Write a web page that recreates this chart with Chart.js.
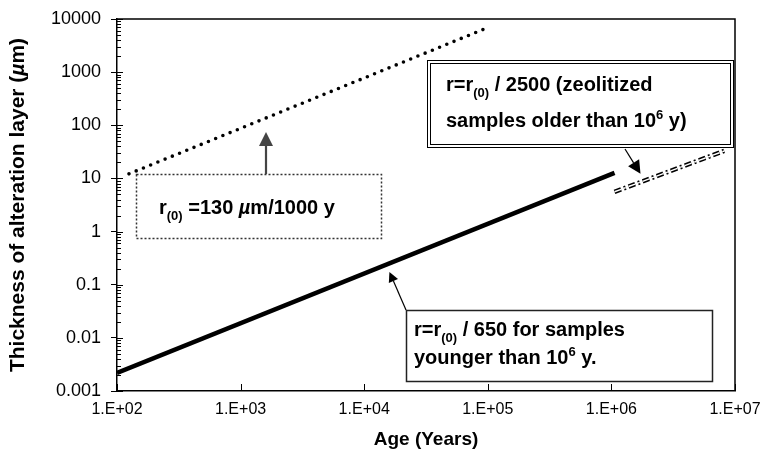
<!DOCTYPE html>
<html>
<head>
<meta charset="utf-8">
<script src="https://cdn.jsdelivr.net/npm/chart.js@4.4.1/dist/chart.umd.min.js"></script>
<style>
  html, body { margin: 0; padding: 0; background: #fff; }
  #wrap { width: 760px; height: 462px; }
</style>
</head>
<body>
<div id="wrap"><canvas id="chart" width="760" height="462"></canvas></div>
<script>
// Thickness of the alteration layer against age, log-log
const X_TICKS = [1e2, 1e3, 1e4, 1e5, 1e6, 1e7];
const X_LABELS = ['1.E+02', '1.E+03', '1.E+04', '1.E+05', '1.E+06', '1.E+07'];
const Y_TICKS = [0.001, 0.01, 0.1, 1, 10, 100, 1000, 10000];
const Y_LABELS = ['0.001', '0.01', '0.1', '1', '10', '100', '1000', '10000'];

// r(0) = 130 um / 1000 y
const AGE_R0 = [125, 95500];
const THK_R0 = [12.2, 6600];
// r = r(0) / 650, younger than 1e6 y
const AGE_650 = [100, 1.06e6];
const THK_650 = [0.0022, 12.7];
// r = r(0) / 2500, zeolitized, older than 1e6 y
const AGE_2500 = [1.06e6, 8.2e6];
const THK_2500 = [5.6, 33];

const FONT = '"Liberation Sans", Arial, Helvetica, sans-serif';
const pts = (xs, ys) => xs.map((x, i) => ({ x, y: ys[i] }));

// bold text with sub / superscripts and italic pieces
function richText(ctx, x, y, parts, size, measureOnly) {
  let cx = x;
  parts.forEach(p => {
    const small = p.sub || p.sup;
    const s = small ? Math.round(size * 0.64) : size;
    ctx.font = (p.it ? 'italic ' : '') + 'bold ' + s + 'px ' + FONT;
    const dy = p.sub ? size * 0.3 : p.sup ? -size * 0.42 : 0;
    if (!measureOnly) ctx.fillText(p.t, cx, y + dy);
    cx += ctx.measureText(p.t).width;
  });
  return cx - x;
}

function arrow(ctx, x0, y0, x1, y1, head, lw, color) {
  const a = Math.atan2(y1 - y0, x1 - x0);
  const c = Math.cos(a), s = Math.sin(a), w = head * 0.5;
  ctx.strokeStyle = color;
  ctx.fillStyle = color;
  ctx.lineWidth = lw;
  ctx.setLineDash([]);
  ctx.beginPath();
  ctx.moveTo(x0, y0);
  ctx.lineTo(x1 - c * head, y1 - s * head);
  ctx.stroke();
  ctx.beginPath();
  ctx.moveTo(x1, y1);
  ctx.lineTo(x1 - c * head + s * w, y1 - s * head - c * w);
  ctx.lineTo(x1 - c * head - s * w, y1 - s * head + c * w);
  ctx.closePath();
  ctx.fill();
}

const annotate = {
  id: 'annotate',
  afterDraw(chart) {
    const { ctx, chartArea: ca, scales: { x, y } } = chart;
    ctx.save();

    // frame top and right
    ctx.strokeStyle = '#000';
    ctx.lineWidth = 1.5;
    ctx.beginPath();
    ctx.moveTo(ca.left, ca.top);
    ctx.lineTo(ca.right, ca.top);
    ctx.lineTo(ca.right, ca.bottom);
    ctx.stroke();

    // inner ticks: y minor + major, x major
    ctx.lineWidth = 1;
    ctx.beginPath();
    Y_TICKS.forEach((d, i) => {
      const py = Math.round(y.getPixelForValue(d)) + 0.5;
      ctx.moveTo(ca.left, py);
      ctx.lineTo(ca.left + 6, py);
      if (i === Y_TICKS.length - 1) return;
      for (let k = 2; k <= 9; k++) {
        const my = Math.round(y.getPixelForValue(d * k)) + 0.5;
        ctx.moveTo(ca.left, my);
        ctx.lineTo(ca.left + 4, my);
      }
    });
    X_TICKS.forEach(v => {
      const px = Math.round(x.getPixelForValue(v)) + 0.5;
      ctx.moveTo(px, ca.bottom);
      ctx.lineTo(px, ca.bottom - 7);
    });
    ctx.stroke();

    // y axis title
    ctx.fillStyle = '#000';
    ctx.textBaseline = 'middle';
    ctx.textAlign = 'left';
    const yTitle = [{ t: 'Thickness of alteration layer (' }, { t: '\u00b5', it: true }, { t: 'm)' }];
    const tw = richText(ctx, 0, 0, yTitle, 21, true);
    ctx.save();
    ctx.translate(18, 205);
    ctx.rotate(-Math.PI / 2);
    richText(ctx, -tw / 2, 0, yTitle, 21);
    ctx.restore();
    ctx.textBaseline = 'alphabetic';

    // box: r(0) = 130 um/1000 y (dotted border)
    ctx.fillStyle = '#fff';
    ctx.fillRect(136, 174, 246, 65);
    ctx.strokeStyle = '#333';
    ctx.lineWidth = 1.5;
    ctx.setLineDash([2, 2]);
    ctx.strokeRect(136.5, 174.5, 245, 64);
    ctx.setLineDash([]);
    ctx.fillStyle = '#000';
    richText(ctx, 159, 214, [
      { t: 'r' }, { t: '(0)', sub: true }, { t: ' =130 ' }, { t: '\u00b5', it: true }, { t: 'm/1000 y' }
    ], 20);
    arrow(ctx, 266, 174, 266, y.getPixelForValue(75), 14, 2.2, '#444');

    // box: r = r(0) / 2500 (double border)
    ctx.fillStyle = '#fff';
    ctx.fillRect(427, 60, 307, 88);
    ctx.strokeStyle = '#000';
    ctx.lineWidth = 1;
    ctx.strokeRect(427.5, 60.5, 306, 87);
    ctx.strokeRect(430.5, 63.5, 300, 81);
    ctx.fillStyle = '#000';
    richText(ctx, 446, 91, [{ t: 'r=r' }, { t: '(0)', sub: true }, { t: ' / 2500 (zeolitized' }], 20);
    richText(ctx, 446, 127, [{ t: 'samples older than 10' }, { t: '6', sup: true }, { t: ' y)' }], 20);
    arrow(ctx, 625, 149, x.getPixelForValue(1.72e6), y.getPixelForValue(12.2), 13, 1.2, '#000');

    // box: r = r(0) / 650 (solid border)
    ctx.fillStyle = '#fff';
    ctx.fillRect(406, 310, 307, 72);
    ctx.strokeStyle = '#222';
    ctx.lineWidth = 1.5;
    ctx.strokeRect(406.5, 310.5, 306, 71);
    ctx.fillStyle = '#000';
    richText(ctx, 414, 336, [{ t: 'r=r' }, { t: '(0)', sub: true }, { t: ' / 650 for samples' }], 20);
    richText(ctx, 414, 364, [{ t: 'younger than 10' }, { t: '6', sup: true }, { t: ' y.' }], 20);
    arrow(ctx, 406, 310, x.getPixelForValue(16000), y.getPixelForValue(0.174), 10, 1.2, '#000');

    ctx.restore();
  }
};

new Chart(document.getElementById('chart'), {
  type: 'line',
  data: {
    datasets: [
      { data: pts(AGE_R0, THK_R0), borderColor: '#000', borderWidth: 3.6, borderDash: [0, 7.8], borderCapStyle: 'round' },
      { data: pts(AGE_650, THK_650), borderColor: '#000', borderWidth: 4.5 },
      // double dash-dot line: black stroke with a thin white core on top
      { data: pts(AGE_2500, THK_2500), borderColor: '#000', borderWidth: 4.5, borderDash: [7, 3, 2, 3], order: 1 },
      { data: pts(AGE_2500, THK_2500), borderColor: '#fff', borderWidth: 1.5, borderDash: [7, 3, 2, 3], order: 0 }
    ]
  },
  options: {
    responsive: false,
    animation: false,
    devicePixelRatio: 1,
    layout: { padding: { top: 19, right: 25, left: 0, bottom: 0 } },
    elements: { point: { radius: 0 }, line: { tension: 0 } },
    plugins: { legend: { display: false }, tooltip: { enabled: false } },
    scales: {
      x: {
        type: 'logarithmic', min: 100, max: 1e7,
        afterBuildTicks: s => { s.ticks = X_TICKS.map(v => ({ value: v })); },
        afterFit: s => { s.height = 71; s.paddingLeft = 0; s.paddingRight = 0; },
        grid: { drawOnChartArea: false, drawTicks: false },
        border: { color: '#000', width: 1.5 },
        ticks: {
          autoSkip: false, maxRotation: 0, padding: 9, color: '#000',
          font: { family: FONT, size: 16 },
          callback: v => X_LABELS[X_TICKS.indexOf(v)]
        },
        title: {
          display: true, text: 'Age (Years)', color: '#000',
          font: { family: FONT, size: 19, weight: 'bold' },
          padding: { top: 0, bottom: 11 }
        }
      },
      y: {
        type: 'logarithmic', min: 0.001, max: 10000,
        afterBuildTicks: s => { s.ticks = Y_TICKS.map(v => ({ value: v })); },
        afterFit: s => { s.width = 117; s.paddingTop = 0; s.paddingBottom = 0; },
        grid: { drawOnChartArea: false, drawTicks: true, tickLength: 6, color: '#000', lineWidth: 1 },
        border: { color: '#000', width: 1.5 },
        ticks: {
          autoSkip: false, padding: 10, color: '#000',
          font: { family: FONT, size: 18 },
          callback: v => Y_LABELS[Y_TICKS.indexOf(v)]
        }
      }
    }
  },
  plugins: [annotate]
});
</script>
</body>
</html>
